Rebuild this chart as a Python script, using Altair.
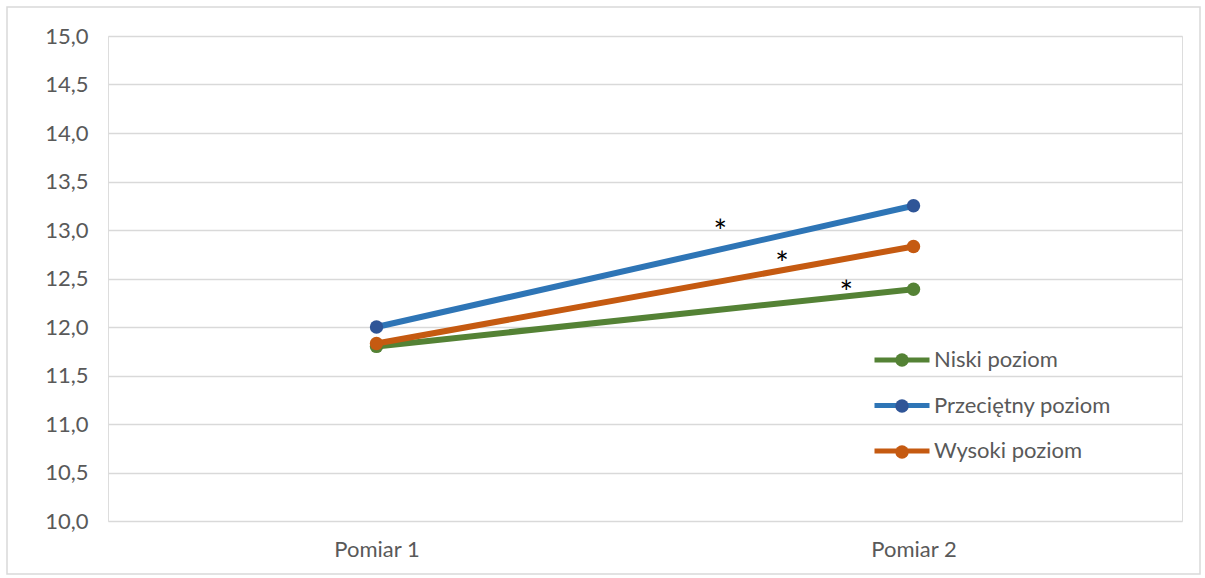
import altair as alt
import pandas as pd

# Series values for the two measurements
groups = ["Niski poziom", "Przeciętny poziom", "Wysoki poziom"]
pomiar_1 = [11.80, 12.00, 11.83]
pomiar_2 = [12.39, 13.25, 12.83]
x_labels = ["Pomiar 1", "Pomiar 2"]
x_pos = [0.5, 1.5]

line_colors = ["#548235", "#2E75B6", "#C55A11"]
marker_colors = ["#548235", "#2F5597", "#C55A11"]

# Significance markers placed along the lines
star_x = [1.14, 1.255, 1.375]
star_y = [13.08, 12.75, 12.45]

rows = []
for g, a, b in zip(groups, pomiar_1, pomiar_2):
    rows.append({"grupa": g, "marker": g, "pos": x_pos[0], "val": a})
    rows.append({"grupa": g, "marker": g, "pos": x_pos[1], "val": b})
df = pd.DataFrame(rows)
stars = pd.DataFrame({"pos": star_x, "val": star_y, "t": ["*"] * 3})

FONT = "Lato"
TXT = "#595959"
GRID = "#D9D9D9"

label_expr = (
    f"datum.value == {x_pos[0]} ? '{x_labels[0]}' : "
    f"datum.value == {x_pos[1]} ? '{x_labels[1]}' : ''"
)

x_enc = alt.X(
    "pos:Q",
    scale=alt.Scale(domain=[0, 2]),
    axis=alt.Axis(
        values=x_pos, labelExpr=label_expr, title=None, grid=False,
        domain=False, ticks=False, labelPadding=18,
        labelFont=FONT, labelFontSize=22, labelColor=TXT,
    ),
)
y_enc = alt.Y(
    "val:Q",
    scale=alt.Scale(domain=[10, 15], nice=False),
    axis=alt.Axis(
        values=[10 + 0.5 * i for i in range(11)],
        labelExpr="replace(format(datum.value, '.1f'), '.', ',')",
        title=None, domain=False, ticks=False, labelPadding=20,
        gridColor=GRID, gridWidth=1.5,
        labelFont=FONT, labelFontSize=22, labelColor=TXT,
    ),
)

# Line legend: a small nominal symbol whose path reaches well past its box,
# so the rows keep the label height while the stroke stays 55 px wide
lines = alt.Chart(df).mark_line(strokeWidth=6).encode(
    x=x_enc,
    y=y_enc,
    color=alt.Color(
        "grupa:N",
        scale=alt.Scale(domain=groups, range=line_colors),
        legend=alt.Legend(
            title=None, orient="none", legendX=783, legendY=313,
            symbolType="M-10,0H10", symbolSize=30.25, symbolStrokeWidth=5,
            labelFont=FONT, labelFontSize=22, labelColor=TXT,
            labelOffset=21, labelLimit=300, rowPadding=23.5, padding=0,
        ),
    ),
)

# Marker legend: circles laid over the middle of the stroke symbols
points = alt.Chart(df).mark_circle(size=180, opacity=1).encode(
    x="pos:Q",
    y="val:Q",
    fill=alt.Fill(
        "marker:N",
        scale=alt.Scale(domain=groups, range=marker_colors),
        legend=alt.Legend(
            title=None, orient="none", legendX=783, legendY=313,
            symbolType="circle", symbolSize=180, symbolStrokeWidth=0,
            symbolOpacity=1, labelExpr="''",
            labelFont=FONT, labelFontSize=22,
            labelOffset=0, rowPadding=24, padding=0,
        ),
    ),
)

star_marks = alt.Chart(stars).mark_text(
    font=FONT, fontSize=32, color="#000000", baseline="middle", dy=11
).encode(x="pos:Q", y="val:Q", text="t:N")

frame = alt.Chart(pd.DataFrame({"k": [0]})).mark_rect(
    fillOpacity=0, stroke=GRID, strokeWidth=1.5
).encode(
    x=alt.value(-101), x2=alt.value(1092),
    y=alt.value(-29), y2=alt.value(538),
)

chart = (
    alt.layer(frame, lines, points, star_marks)
    .resolve_legend(color="independent", fill="independent")
    .properties(
        width=1074, height=485,
        autosize=alt.AutoSizeParams(type="none"),
        padding={"left": 108, "top": 36, "right": 23, "bottom": 57},
    )
    .configure_view(stroke=None)
    .configure(background="white")
)

chart.save("out.html", embed_options={"renderer": "svg", "actions": False})
